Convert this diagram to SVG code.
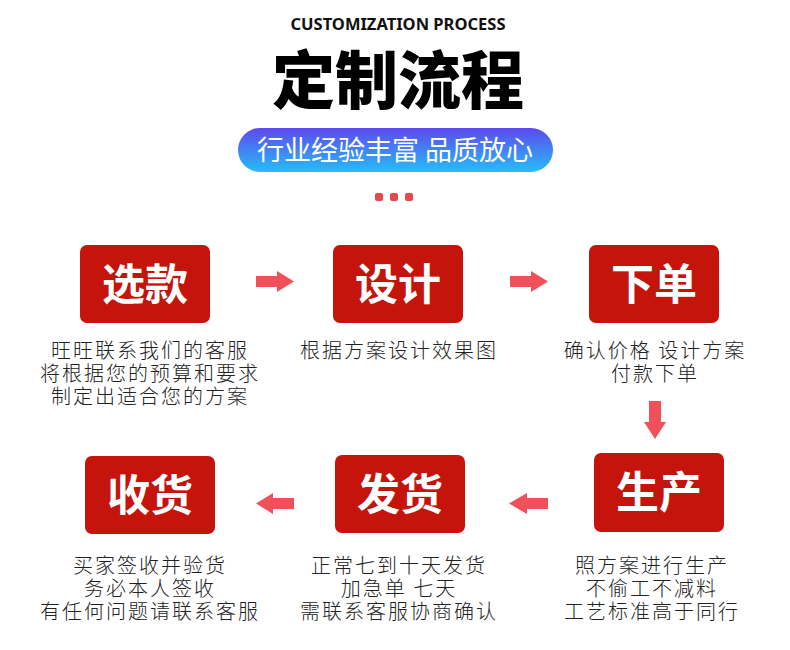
<svg xmlns="http://www.w3.org/2000/svg" width="790" height="650" viewBox="0 0 790 650">
<defs>
<linearGradient id="pill" x1="0" y1="0" x2="0" y2="1">
<stop offset="0" stop-color="#5E48EE"/>
<stop offset="1" stop-color="#25BDF9"/>
</linearGradient>
<style>
.box{fill:#C4140B;}
.bt{font-family:"Noto Sans CJK SC","Noto Sans",sans-serif;font-weight:700;font-size:43px;fill:#fff;text-anchor:middle;}
.dt{font-family:"Noto Sans CJK SC","Noto Sans",sans-serif;font-weight:300;font-size:20px;letter-spacing:2px;fill:#222;text-anchor:middle;}
.arr{fill:#EF5059;}
</style>
</defs>
<rect width="790" height="650" fill="#fff"/>
<g id="header">
<text x="398" y="30" font-family="'Noto Sans','Open Sans',sans-serif" font-weight="700" font-size="16.5" text-anchor="middle" fill="#111">CUSTOMIZATION PROCESS</text>
<text x="398" y="103" font-family="'Noto Sans CJK SC',sans-serif" font-weight="900" font-size="63" text-anchor="middle" fill="#000">定制流程</text>
<rect x="238" y="128" width="315" height="44" rx="22" fill="url(#pill)"/>
<text x="395" y="160" font-family="'Noto Sans CJK SC',sans-serif" font-weight="400" font-size="27" text-anchor="middle" fill="#fff">行业经验丰富 品质放心</text>
<rect x="375" y="193" width="8" height="8" rx="2" fill="#E8474E"/>
<rect x="390" y="193" width="8" height="8" rx="2" fill="#E8474E"/>
<rect x="405" y="193" width="8" height="8" rx="2" fill="#E8474E"/>
</g>
<g id="n1">
<rect class="box" x="80" y="245" width="130" height="78" rx="7"/>
<text class="bt" x="145" y="300">选款</text>
<text class="dt" x="150" y="358">旺旺联系我们的客服</text>
<text class="dt" x="150" y="381">将根据您的预算和要求</text>
<text class="dt" x="150" y="404">制定出适合您的方案</text>
</g>
<g id="n2">
<rect class="box" x="333" y="245" width="130" height="78" rx="7"/>
<text class="bt" x="398" y="300">设计</text>
<text class="dt" x="399" y="358">根据方案设计效果图</text>
</g>
<g id="n3">
<rect class="box" x="589" y="245" width="130" height="78" rx="7"/>
<text class="bt" x="654" y="300">下单</text>
<text class="dt" x="655" y="358">确认价格 设计方案</text>
<text class="dt" x="655" y="381">付款下单</text>
</g>
<g id="n4">
<rect class="box" x="594" y="453" width="130" height="79" rx="7"/>
<text class="bt" x="659" y="508">生产</text>
<text class="dt" x="652" y="573">照方案进行生产</text>
<text class="dt" x="652" y="596">不偷工不减料</text>
<text class="dt" x="652" y="619">工艺标准高于同行</text>
</g>
<g id="n5">
<rect class="box" x="335" y="455" width="130" height="78" rx="7"/>
<text class="bt" x="400" y="510">发货</text>
<text class="dt" x="399" y="573">正常七到十天发货</text>
<text class="dt" x="399" y="596">加急单 七天</text>
<text class="dt" x="399" y="619">需联系客服协商确认</text>
</g>
<g id="n6">
<rect class="box" x="85" y="456" width="130" height="78" rx="7"/>
<text class="bt" x="150" y="511">收货</text>
<text class="dt" x="150" y="573">买家签收并验货</text>
<text class="dt" x="150" y="596">务必本人签收</text>
<text class="dt" x="150" y="619">有任何问题请联系客服</text>
</g>
<g id="connectors">
<polygon class="arr" points="256,276 277,276 277,271 294,281.5 277,292 277,287 256,287"/>
<polygon class="arr" points="510,276 531,276 531,271 548,281.5 531,292 531,287 510,287"/>
<polygon class="arr" points="649,401 661,401 661,422 666,422 655,439 644,422 649,422"/>
<polygon class="arr" points="548,498 527,498 527,493 509,503.5 527,514 527,509 548,509"/>
<polygon class="arr" points="294,498 273,498 273,493 256,503.5 273,514 273,509 294,509"/>
</g>
</svg>
